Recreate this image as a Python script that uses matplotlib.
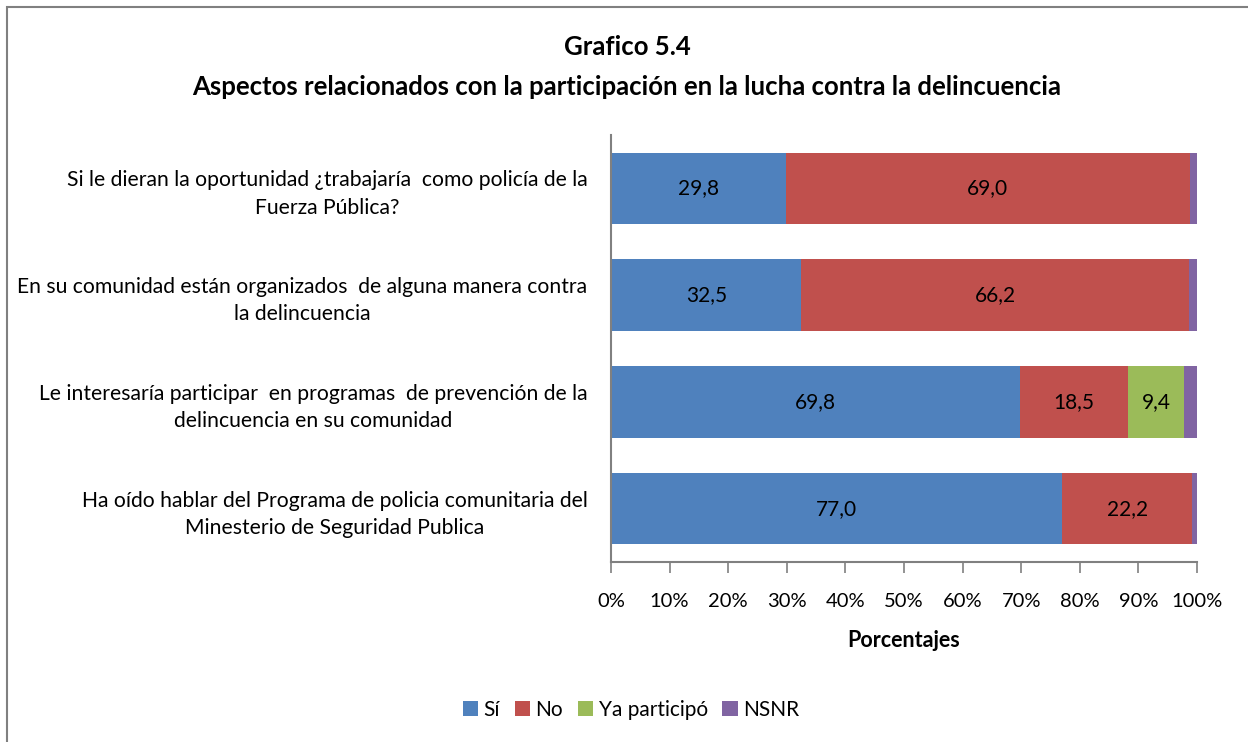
import matplotlib
matplotlib.use("Agg")
import matplotlib.pyplot as plt
from matplotlib.patches import Rectangle

plt.rcParams['font.family'] = ['Lato', 'DejaVu Sans']

categories = [
    "Si le dieran la oportunidad ¿trabajaría  como policía de la\nFuerza Pública?",
    "En su comunidad están organizados  de alguna manera contra\nla delincuencia",
    "Le interesaría participar  en programas  de prevención de la\ndelincuencia en su comunidad",
    "Ha oído hablar del Programa de policia comunitaria del\nMinesterio de Seguridad Publica",
]
series_names = ["Sí", "No", "Ya participó", "NSNR"]
si = [29.8, 32.5, 69.8, 77.0]
no = [69.0, 66.2, 18.5, 22.2]
ya = [0.0, 0.0, 9.4, 0.0]
nsnr = [1.2, 1.3, 2.3, 0.8]
colors = ["#4F81BD", "#C0504D", "#9BBB59", "#8064A2"]
xticks = [0, 10, 20, 30, 40, 50, 60, 70, 80, 90, 100]

fig = plt.figure(figsize=(12.48, 7.42), dpi=100)
ax = fig.add_axes([611/1248, 1-562/742, 586/1248, 427/742])

ypos = list(range(len(categories)))
left = [0.0]*len(categories)
for name, vals, col in zip(series_names, [si, no, ya, nsnr], colors):
    bars = ax.barh(ypos, vals, left=left, height=0.67, color=col, label=name)
    for b, v, l in zip(bars, vals, left):
        if v >= 5:
            ax.text(l + v/2, b.get_y() + b.get_height()/2, f"{v:.1f}".replace('.', ','),
                    ha='center', va='center', fontsize=15, color='black')
    left = [a + b for a, b in zip(left, vals)]

ax.set_ylim(3.5, -0.5)
ax.set_xlim(0, 100)
ax.set_xticks(xticks)
ax.set_xticklabels([f"{t}%" for t in xticks], fontsize=14.5)
ax.set_yticks(ypos)
ax.set_yticklabels(categories, fontsize=15.2, ha='right', multialignment='center',
                   linespacing=1.45)
ax.tick_params(axis='y', length=0, pad=17)
ax.tick_params(axis='x', length=8, color='#808080', width=1.2, pad=14)
for s in ['top', 'right']:
    ax.spines[s].set_visible(False)
for s in ['left', 'bottom']:
    ax.spines[s].set_color('#808080')
    ax.spines[s].set_linewidth(1.5)
ax.set_xlabel("Porcentajes", fontsize=15.5, fontweight='bold', labelpad=15)

fig.text(627/1248, 1-47/742, "Grafico 5.4", ha='center', va='center', fontsize=18.5, fontweight='bold')
fig.text(627/1248, 1-87/742, "Aspectos relacionados con la participación en la lucha contra la delincuencia",
         ha='center', va='center', fontsize=18.5, fontweight='bold')

fig.legend(loc='center', bbox_to_anchor=(631/1248, 1-710/742), ncol=4, frameon=False,
           fontsize=15, handlelength=0.75, handleheight=0.75, handletextpad=0.25, columnspacing=0.7)

fig.patches.append(Rectangle((7/1248, -0.1), 1.2, 1-7/742+0.1, transform=fig.transFigure,
                             fill=False, edgecolor='#808080', linewidth=1.5))

fig.savefig("out.png", dpi=100)
